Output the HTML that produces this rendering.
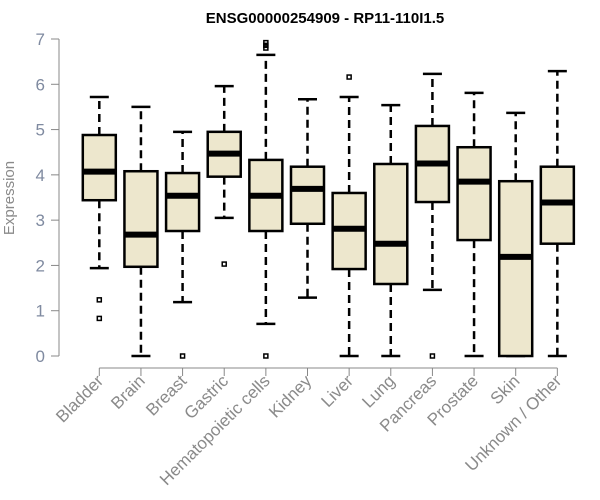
<!DOCTYPE html>
<html><head><meta charset="utf-8"><style>
body{margin:0;background:#fff}
svg{display:block;font-family:"Liberation Sans",Arial,sans-serif}
</style></head><body>
<svg id="chart" width="600" height="500">
<text x="325" y="23" text-anchor="middle" font-weight="bold" font-size="15" fill="#000">ENSG00000254909 - RP11-110I1.5</text>
<text transform="translate(14,198) rotate(-90)" text-anchor="middle" font-size="15" fill="#8a8a8a">Expression</text>
<g id="yaxis"></g>
<g id="xaxis"></g>
<g id="boxes"></g>
</svg>
<script>
const categories=["Bladder","Brain","Breast","Gastric","Hematopoietic cells","Kidney","Liver","Lung","Pancreas","Prostate","Skin","Unknown / Other"];
const whiskerLow=[1.94,0,1.19,3.05,0.71,1.29,0,0,1.46,0,0,0];
const q1=[3.44,1.97,2.76,3.96,2.76,2.92,1.92,1.59,3.4,2.56,0,2.48];
const medians=[4.07,2.68,3.54,4.47,3.54,3.69,2.81,2.48,4.25,3.85,2.19,3.39];
const q3=[4.88,4.08,4.04,4.95,4.33,4.18,3.6,4.24,5.08,4.61,3.86,4.18];
const whiskerHigh=[5.72,5.5,4.95,5.96,6.65,5.67,5.72,5.54,6.23,5.81,5.37,6.29];
const outliers=[[1.24,0.83],[],[0],[2.03],[6.8,6.86,6.92,0],[],[6.16],[],[0],[],[],[]];
const yTicks=[0,1,2,3,4,5,6,7];
const NS="http://www.w3.org/2000/svg";
const y=v=>356-v*(317/7);
const x=i=>99.3+i*41.64;
function mk(tag,attrs,parent){const e=document.createElementNS(NS,tag);for(const k in attrs)e.setAttribute(k,attrs[k]);parent.appendChild(e);return e;}
const ya=document.getElementById('yaxis'),xa=document.getElementById('xaxis'),bx=document.getElementById('boxes');
const gray="#888";
mk('line',{x1:59,x2:59,y1:y(0),y2:y(7),stroke:gray},ya);
yTicks.forEach(t=>{
 const l=mk('line',{x1:51,x2:59,y1:y(t),y2:y(t),stroke:gray},ya);
 
 
 const tx=mk('text',{x:45,y:y(t)+6,'text-anchor':'end','font-size':17,fill:'#7f8aa0'},ya);
 tx.textContent=t;
 
 
});
mk('line',{x1:x(0),x2:x(categories.length-1),y1:368,y2:368,stroke:gray},xa);
categories.forEach((c,i)=>{
 const cx=x(i);
 const tk=mk('line',{x1:cx,x2:cx,y1:368,y2:376,stroke:gray},xa);
 
 
 const tx=mk('text',{transform:`translate(${cx+5},382) rotate(-45)`,'text-anchor':'end','font-size':17,fill:'#8a8a8a'},xa);
 tx.textContent=c;
 
 
 const g=mk('g',{},bx);
 
 
 const dash={stroke:'#000','stroke-width':2.5,'stroke-dasharray':'8,5'};
 mk('line',Object.assign({x1:cx,x2:cx,y1:y(q3[i]),y2:y(whiskerHigh[i])},dash),g);
 mk('line',Object.assign({x1:cx,x2:cx,y1:y(q1[i]),y2:y(whiskerLow[i])},dash),g);
 mk('line',{x1:cx-9.5,x2:cx+9.5,y1:y(whiskerHigh[i]),y2:y(whiskerHigh[i]),stroke:'#000','stroke-width':2.5},g);
 mk('line',{x1:cx-9.5,x2:cx+9.5,y1:y(whiskerLow[i]),y2:y(whiskerLow[i]),stroke:'#000','stroke-width':2.5},g);
 mk('rect',{x:cx-16.5,y:y(q3[i]),width:33,height:y(q1[i])-y(q3[i]),fill:'#ede7cd',stroke:'#000','stroke-width':2.5},g);
 mk('line',{x1:cx-16.5,x2:cx+16.5,y1:y(medians[i]),y2:y(medians[i]),stroke:'#000','stroke-width':6},g);
 outliers[i].forEach(o=>{
  const r=mk('rect',{x:cx-2,y:y(o)-2,width:4,height:4,fill:'none',stroke:'#000','stroke-width':1.5},g);
  
  
 });
});
</script>
</body></html>
